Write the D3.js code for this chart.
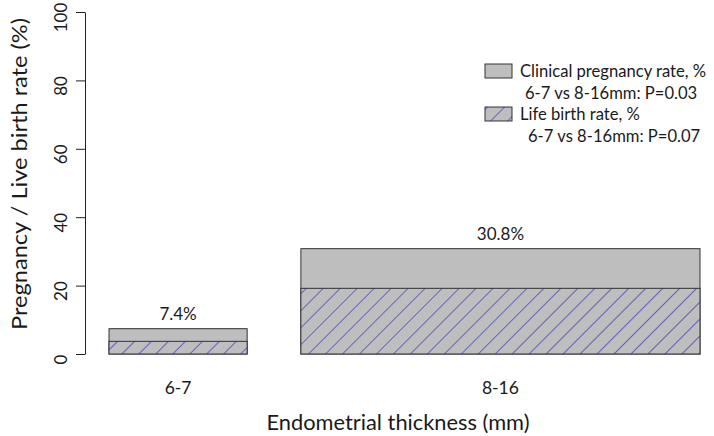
<!DOCTYPE html>
<html><head><meta charset="utf-8">
<script src="https://cdn.jsdelivr.net/npm/d3@7"></script>
<style>body{margin:0;background:#fff}text{font-family:Lato,"Open Sans",sans-serif;fill:#1a1a1a}</style>
</head><body><svg id="c" width="714" height="436"></svg>
<script>
const categories = ["6-7", "8-16"];
const sampleSizes = [27, 78];
const pregnancyRate = [7.4, 30.8];
const liveBirthRate = [3.7, 19.2];
const yTicks = [0, 20, 40, 60, 80, 100];
const legendLabels = [["Clinical pregnancy rate, %", "6-7 vs 8-16mm: P=0.03"], ["Life birth rate, %", "6-7 vs 8-16mm: P=0.07"]];

const svg = d3.select("#c");
const defs = svg.append("defs");
const pat = defs.append("pattern").attr("id", "hatch").attr("patternUnits", "userSpaceOnUse")
  .attr("width", 12).attr("height", 12).attr("patternTransform", "rotate(45)");
pat.append("rect").attr("width", 12).attr("height", 12).attr("fill", "#bebebe");
pat.append("line").attr("x1", 0).attr("y1", 0).attr("x2", 0).attr("y2", 12)
  .attr("stroke", "#3a3ac6").attr("stroke-width", 1.4);

// bar layout like R barplot(width = n, space = 0.2)
const space = 0.2 * d3.mean(sampleSizes);
let acc = 0;
const bars = categories.map((c, i) => {
  acc += space;
  const b = {cat: c, x0: acc, x1: acc + sampleSizes[i], preg: pregnancyRate[i], live: liveBirthRate[i]};
  acc += sampleSizes[i];
  return b;
});
const x = d3.scaleLinear().domain([bars[0].x0, bars[bars.length - 1].x1]).range([109, 700]);
const y = d3.scaleLinear().domain([0, 100]).range([354, 12]);

// y axis
const yAxis = d3.axisLeft(y).tickValues(yTicks).tickSize(9).tickSizeOuter(0);
const ga = svg.append("g").attr("transform", "translate(85,0)").call(yAxis);
ga.select(".domain").attr("stroke", "#222");
ga.selectAll(".tick line").attr("stroke", "#222");
ga.selectAll(".tick text").attr("font-size", 17).attr("font-family", "Lato").attr("fill", "#1a1a1a")
  .attr("transform", "rotate(-90)").attr("text-anchor", "middle")
  .attr("x", -5).attr("y", -24).attr("dy", "0.35em");

// bars
const g = svg.append("g");
bars.forEach(b => {
  g.append("rect").attr("x", x(b.x0)).attr("width", x(b.x1) - x(b.x0))
    .attr("y", y(b.preg)).attr("height", y(0) - y(b.preg))
    .attr("fill", "#bebebe").attr("stroke", "#333").attr("stroke-width", 1);
  g.append("rect").attr("x", x(b.x0)).attr("width", x(b.x1) - x(b.x0))
    .attr("y", y(b.live)).attr("height", y(0) - y(b.live))
    .attr("fill", "url(#hatch)").attr("stroke", "#333").attr("stroke-width", 1);
  g.append("text").attr("x", (x(b.x0) + x(b.x1)) / 2).attr("y", y(b.preg) - 15).attr("dy", "0.35em")
    .attr("text-anchor", "middle").attr("font-size", 17).text(b.preg.toFixed(1) + "%");
  g.append("text").attr("x", (x(b.x0) + x(b.x1)) / 2).attr("y", 388).attr("dy", "0.35em")
    .attr("text-anchor", "middle").attr("font-size", 17.5).text(b.cat);
});

// axis titles
svg.append("text").attr("transform", "translate(20,174) rotate(-90)").attr("text-anchor", "middle")
  .attr("dy", "0.35em").attr("font-size", 21).attr("textLength", 312).attr("lengthAdjust", "spacingAndGlyphs")
  .text("Pregnancy / Live birth rate (%)");
svg.append("text").attr("x", 398).attr("y", 423).attr("dy", "0.35em").attr("text-anchor", "middle")
  .attr("font-size", 21).attr("textLength", 263).attr("lengthAdjust", "spacingAndGlyphs")
  .text("Endometrial thickness (mm)");

// legend
const lg = svg.append("g");
const fills = ["#bebebe", "url(#hatch)"];
const rowsY = [71, 114];
legendLabels.forEach((lab, i) => {
  lg.append("rect").attr("x", 485).attr("y", rowsY[i] - 7).attr("width", 27).attr("height", 14)
    .attr("fill", fills[i]).attr("stroke", "#333").attr("stroke-width", 1);
  lg.append("text").attr("x", 520).attr("y", rowsY[i]).attr("dy", "0.35em").attr("font-size", 16.6).text(lab[0]);
  lg.append("text").attr("x", 525 + i * 3).attr("y", rowsY[i] + 22).attr("dy", "0.35em").attr("font-size", 16.6).text(lab[1]);
});
</script></body></html>
